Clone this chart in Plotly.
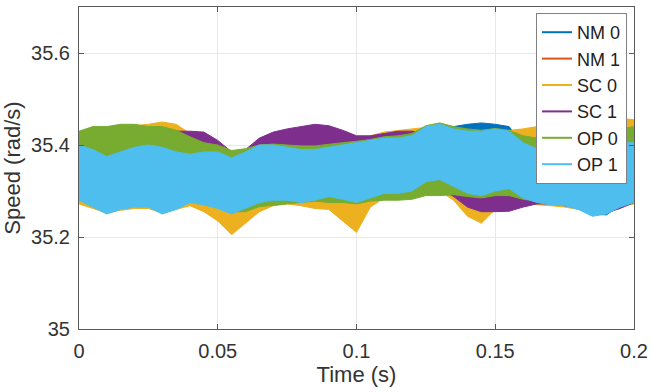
import plotly.graph_objects as go

# Sample times (s)
t = [round(0.005 * i, 3) for i in range(41)]

# Envelope (upper / lower) of each speed ripple band, rad/s
NM0_hi = [35.395, 35.385, 35.372, 35.380, 35.390, 35.395, 35.390, 35.380, 35.375, 35.380,
          35.380, 35.368, 35.380, 35.395, 35.395, 35.390, 35.385, 35.385, 35.390, 35.395,
          35.400, 35.405, 35.410, 35.410, 35.415, 35.435, 35.440, 35.440, 35.445, 35.448,
          35.445, 35.440, 35.400, 35.388, 35.380, 35.380, 35.385, 35.390, 35.395, 35.400, 35.400]
NM0_lo = [35.285, 35.270, 35.256, 35.266, 35.270, 35.270, 35.256, 35.266, 35.280, 35.276,
          35.268, 35.256, 35.268, 35.280, 35.285, 35.285, 35.280, 35.285, 35.292, 35.287,
          35.280, 35.290, 35.300, 35.300, 35.305, 35.324, 35.328, 35.315, 35.300, 35.295,
          35.305, 35.310, 35.290, 35.280, 35.275, 35.273, 35.265, 35.250, 35.248, 35.268, 35.280]

NM1_hi = [35.390, 35.380, 35.368, 35.378, 35.388, 35.392, 35.388, 35.378, 35.372, 35.378,
          35.378, 35.365, 35.378, 35.392, 35.392, 35.388, 35.382, 35.382, 35.388, 35.392,
          35.398, 35.402, 35.408, 35.408, 35.412, 35.430, 35.435, 35.428, 35.422, 35.422,
          35.428, 35.422, 35.398, 35.385, 35.378, 35.378, 35.382, 35.388, 35.392, 35.398, 35.398]
NM1_lo = [35.290, 35.275, 35.260, 35.270, 35.275, 35.275, 35.260, 35.270, 35.285, 35.280,
          35.272, 35.260, 35.272, 35.285, 35.290, 35.290, 35.285, 35.290, 35.296, 35.290,
          35.285, 35.294, 35.304, 35.304, 35.310, 35.328, 35.332, 35.318, 35.304, 35.300,
          35.310, 35.314, 35.294, 35.284, 35.280, 35.277, 35.270, 35.256, 35.260, 35.274, 35.284]

SC0_hi = [35.420, 35.430, 35.435, 35.440, 35.442, 35.445, 35.450, 35.445, 35.425, 35.405,
          35.395, 35.380, 35.385, 35.400, 35.405, 35.405, 35.400, 35.400, 35.405, 35.410,
          35.415, 35.420, 35.428, 35.432, 35.435, 35.438, 35.438, 35.430, 35.425, 35.425,
          35.428, 35.432, 35.435, 35.440, 35.445, 35.452, 35.458, 35.462, 35.462, 35.458, 35.455]
SC0_lo = [35.272, 35.262, 35.252, 35.258, 35.262, 35.262, 35.252, 35.260, 35.268, 35.255,
          35.235, 35.205, 35.230, 35.255, 35.268, 35.272, 35.268, 35.262, 35.260, 35.235,
          35.210, 35.265, 35.285, 35.290, 35.295, 35.300, 35.300, 35.280, 35.245, 35.230,
          35.260, 35.272, 35.275, 35.270, 35.268, 35.265, 35.260, 35.250, 35.255, 35.265, 35.272]

SC1_hi = [35.410, 35.420, 35.420, 35.425, 35.430, 35.430, 35.430, 35.430, 35.430, 35.428,
          35.410, 35.385, 35.390, 35.415, 35.428, 35.435, 35.440, 35.445, 35.442, 35.432,
          35.420, 35.420, 35.425, 35.430, 35.430, 35.425, 35.420, 35.412, 35.410, 35.410,
          35.415, 35.418, 35.410, 35.400, 35.400, 35.400, 35.400, 35.400, 35.405, 35.410, 35.415]
SC1_lo = [35.285, 35.270, 35.258, 35.265, 35.270, 35.270, 35.258, 35.265, 35.278, 35.274,
          35.268, 35.258, 35.265, 35.276, 35.280, 35.280, 35.278, 35.282, 35.288, 35.283,
          35.276, 35.285, 35.295, 35.295, 35.300, 35.305, 35.305, 35.288, 35.265, 35.255,
          35.255, 35.256, 35.265, 35.272, 35.272, 35.268, 35.262, 35.250, 35.252, 35.262, 35.275]

OP0_hi = [35.430, 35.440, 35.440, 35.445, 35.445, 35.440, 35.440, 35.432, 35.418, 35.405,
          35.400, 35.388, 35.392, 35.400, 35.402, 35.400, 35.398, 35.398, 35.402, 35.405,
          35.408, 35.412, 35.418, 35.420, 35.425, 35.442, 35.448, 35.440, 35.435, 35.432,
          35.436, 35.432, 35.420, 35.415, 35.412, 35.412, 35.415, 35.420, 35.425, 35.435, 35.440]
OP0_lo = [35.282, 35.268, 35.255, 35.262, 35.268, 35.268, 35.255, 35.262, 35.276, 35.272,
          35.265, 35.255, 35.255, 35.266, 35.270, 35.272, 35.275, 35.278, 35.275, 35.275,
          35.272, 35.278, 35.280, 35.280, 35.282, 35.290, 35.290, 35.292, 35.288, 35.285,
          35.290, 35.290, 35.282, 35.278, 35.272, 35.270, 35.262, 35.248, 35.252, 35.267, 35.277]

OP1_hi = [35.400, 35.390, 35.375, 35.385, 35.395, 35.400, 35.395, 35.385, 35.380, 35.385,
          35.385, 35.372, 35.385, 35.400, 35.400, 35.395, 35.390, 35.390, 35.395, 35.400,
          35.405, 35.410, 35.415, 35.415, 35.420, 35.440, 35.445, 35.435, 35.430, 35.430,
          35.435, 35.430, 35.405, 35.392, 35.385, 35.385, 35.390, 35.395, 35.400, 35.405, 35.405]
OP1_lo = [35.280, 35.265, 35.250, 35.260, 35.265, 35.265, 35.250, 35.260, 35.275, 35.270,
          35.262, 35.250, 35.262, 35.275, 35.280, 35.280, 35.275, 35.280, 35.288, 35.282,
          35.275, 35.285, 35.295, 35.295, 35.300, 35.320, 35.325, 35.310, 35.295, 35.290,
          35.300, 35.305, 35.285, 35.275, 35.270, 35.268, 35.260, 35.245, 35.250, 35.265, 35.275]

names = ["NM 0", "NM 1", "SC 0", "SC 1", "OP 0", "OP 1"]
colors = ["#0072BD", "#D95319", "#EDB120", "#7E2F8E", "#77AC30", "#4DBEEE"]
uppers = [NM0_hi, NM1_hi, SC0_hi, SC1_hi, OP0_hi, OP1_hi]
lowers = [NM0_lo, NM1_lo, SC0_lo, SC1_lo, OP0_lo, OP1_lo]

x_ticks = [0, 0.05, 0.1, 0.15, 0.2]
x_ticktext = ["0", "0.05", "0.1", "0.15", "0.2"]
y_ticks = [35, 35.2, 35.4, 35.6]
y_ticktext = ["35", "35.2", "35.4", "35.6"]

fig = go.Figure()
for name, col, hi, lo in zip(names, colors, uppers, lowers):
    fig.add_trace(go.Scatter(
        x=t + t[::-1], y=hi + lo[::-1], mode="lines", fill="toself",
        fillcolor=col, line=dict(color=col, width=1),
        showlegend=False, hoverinfo="skip", name=name))
for name, col in zip(names, colors):
    fig.add_trace(go.Scatter(x=[None], y=[None], mode="lines",
                             line=dict(color=col, width=2), name=name))

axis_common = dict(showline=True, linecolor="#5a5a5a", linewidth=1, mirror="ticks",
                   ticks="inside", ticklen=5, tickcolor="#5a5a5a",
                   showgrid=True, gridcolor="#e8e8e8", gridwidth=1, zeroline=False,
                   automargin=False,
                   tickfont=dict(size=20, color="#333333"))

fig.update_layout(
    width=652, height=392,
    margin=dict(l=79, r=18, t=7, b=63),
    paper_bgcolor="white", plot_bgcolor="white",
    font=dict(family="Liberation Sans, Arial, sans-serif", color="#333333"),
    xaxis=dict(range=[0, 0.2], tickvals=x_ticks, ticktext=x_ticktext,
               ticklabelstandoff=4,
               title=dict(text="Time (s)", font=dict(size=22), standoff=4),
               **axis_common),
    yaxis=dict(range=[35, 35.7], tickvals=y_ticks, ticktext=y_ticktext,
               ticklabelstandoff=4,
               title=dict(text="Speed (rad/s)", font=dict(size=22), standoff=8),
               **axis_common),
    legend=dict(x=(627 - 79) / 555, xanchor="right", y=(329 - 13) / 322, yanchor="top",
                bgcolor="white", bordercolor="#808080", borderwidth=1,
                font=dict(size=18, color="#222222"),
                itemwidth=30, tracegroupgap=0),
    showlegend=True,
)

fig.write_html("out.html", config={"displayModeBar": False},
               post_script="document.body.style.margin='0px';document.body.style.overflow='hidden';")
